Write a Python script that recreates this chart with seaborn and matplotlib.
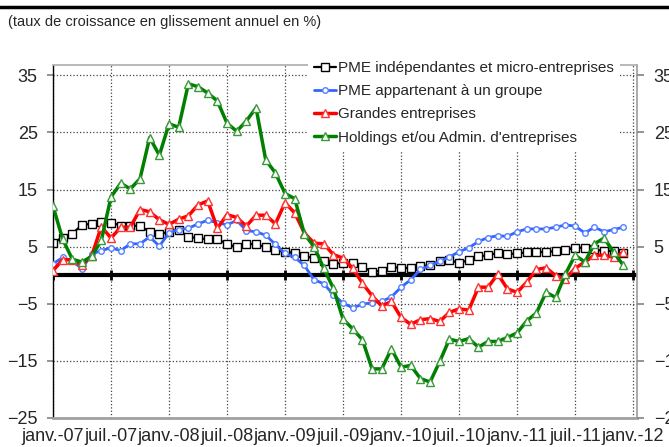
import numpy as np
import pandas as pd
import matplotlib
matplotlib.use("Agg")
import matplotlib.pyplot as plt
from matplotlib.lines import Line2D
import seaborn as sns

sns.set_theme(style="white")
plt.rcParams['font.family'] = ['Liberation Sans', 'DejaVu Sans']

# monthly values, janv.-07 .. déc.-11
tick_labels = ["janv.-07", "juil.-07", "janv.-08", "juil.-08", "janv.-09", "juil.-09",
               "janv.-10", "juil.-10", "janv.-11", "juil.-11", "janv.-12"]

pme_indep = [5.7, 6.6, 7.3, 8.8, 9.0, 9.3, 9.2, 8.7, 8.7, 8.6, 7.6, 7.2,
             7.6, 7.9, 6.7, 6.5, 6.3, 6.3, 5.5, 4.9, 5.5, 5.4, 4.9, 4.4,
             4.1, 3.9, 3.3, 3.0, 2.4, 2.0, 2.2, 2.1, 1.5, 0.6, 0.8, 1.5,
             1.2, 1.3, 1.6, 1.7, 2.5, 2.6, 2.2, 2.6, 3.3, 3.5, 3.9, 3.7,
             3.8, 4.0, 4.0, 4.1, 4.2, 4.4, 4.8, 4.8, 4.5, 4.2, 4.3, 3.9]

pme_groupe = [2.0, 3.1, 2.5, 1.1, 3.7, 4.3, 4.8, 4.3, 5.5, 5.5, 6.7, 5.1,
              7.4, 8.0, 8.2, 9.0, 9.6, 9.2, 8.8, 9.6, 7.8, 7.6, 7.0, 5.4,
              3.8, 3.1, 1.7, -0.8, -1.5, -3.4, -4.9, -5.7, -5.1, -4.8, -4.6, -3.8,
              -2.1, -0.8, 1.0, 1.7, 2.4, 3.2, 4.1, 4.8, 5.9, 6.6, 6.9, 6.8,
              7.6, 8.1, 8.1, 8.1, 8.4, 8.8, 8.6, 7.4, 8.4, 7.6, 8.0, 8.4]

grandes = [0.8, 2.7, 2.7, 1.8, 3.4, 8.5, 6.5, 8.4, 8.4, 11.5, 11.1, 9.7,
           8.9, 9.8, 10.4, 12.3, 13.0, 8.2, 10.6, 10.1, 8.6, 10.5, 10.5, 9.0,
           12.7, 10.9, 7.4, 5.6, 5.5, 3.6, 3.0, 1.2, -1.4, -3.6, -5.4, -4.6,
           -7.4, -8.6, -7.8, -7.6, -8.1, -6.5, -5.9, -6.1, -2.1, -2.1, 0.2, -2.4,
           -3.0, -1.2, 1.0, 1.3, -0.1, -0.6, 1.2, 2.3, 3.5, 3.5, 3.1, 4.0]

holdings = [12.1, 6.3, 2.8, 2.3, 3.3, 6.1, 13.7, 16.1, 15.1, 16.9, 24.1, 21.0,
            26.5, 25.9, 33.5, 33.0, 31.9, 30.5, 26.6, 25.2, 27.0, 29.3, 20.2, 17.9,
            14.3, 13.4, 7.2, 5.0, 1.2, -2.3, -7.7, -9.4, -11.3, -16.4, -16.4, -12.9,
            -16.1, -15.8, -18.1, -18.7, -15.1, -11.2, -11.6, -11.1, -12.6, -11.6, -11.6, -10.9,
            -10.1, -8.0, -6.6, -3.0, -3.9, 0.2, 3.5, 2.3, 5.5, 6.5, 4.0, 1.7]

series_names = ["PME indépendantes et micro-entreprises", "PME appartenant à un groupe",
                "Grandes entreprises", "Holdings et/ou Admin. d'entreprises"]

months = np.arange(len(pme_indep))
df = pd.DataFrame({"mois": months, series_names[0]: pme_indep, series_names[1]: pme_groupe,
                   series_names[2]: grandes, series_names[3]: holdings})

fig = plt.figure(figsize=(6.69, 4.47), dpi=100)
ax = fig.add_axes([53 / 669, 1 - 418 / 447, (637 - 53) / 669, (418 - 65) / 447])

styles = [
    dict(color="black", linewidth=1.6, marker="s", markersize=6, markeredgecolor="black"),
    dict(color="#3366ff", linewidth=2.0, marker="o", markersize=4, markeredgecolor="#5580ff"),
    dict(color="#ff0000", linewidth=2.5, marker="^", markersize=5.5, markeredgecolor="#ff3333"),
    dict(color="#008000", linewidth=2.5, marker="^", markersize=5.5, markeredgecolor="#3a9a3a"),
]

# zero axis with its tick marks
ax.axhline(0, color="black", lw=3, zorder=1.5)
ax.vlines(np.arange(0, 61, 6), -0.9, 0.9, color="black", lw=2, zorder=1.6)

handles = []
for i, (name, st) in enumerate(zip(series_names, styles)):
    sns.lineplot(data=df, x="mois", y=name, ax=ax, markerfacecolor="white",
                 markeredgewidth=1, zorder=2 + i, **st)
    handles.append(ax.lines[-1])

ax.set_xlim(0, 60.4)
ax.set_ylim(-25, 36.8)
ax.set_xticks(np.arange(0, 61, 6))
ax.set_xticklabels(tick_labels, fontsize=13)
ax.set_yticks([-25, -15, -5, 5, 15, 25, 35])
ax.tick_params(axis="y", labelsize=13, length=4, pad=7, color="#888888", left=True)
ax.tick_params(axis="x", length=0, pad=7)
ax.set_xlabel("")
ax.set_ylabel("")
ax.grid(True, linestyle=":", color="#444444", linewidth=0.9)

ax.spines["left"].set_color("black")
ax.spines["left"].set_linewidth(1)
ax.spines["bottom"].set_color("#a0a0a0")
ax.spines["bottom"].set_linewidth(2)
ax.spines["top"].set_color("#b0b0b0")
ax.spines["right"].set_color("#a0a0a0")

# right-hand axis (labels run off the edge, as in the source)
ax_r = ax.twinx()
ax_r.set_ylim(ax.get_ylim())
ax_r.set_yticks([-25, -15, -5, 5, 15, 25, 35])
ax_r.tick_params(axis="y", labelsize=13, length=5, pad=7, color="#888888", right=True)
ax_r.grid(False)
for s in ax_r.spines.values():
    s.set_visible(False)

leg = ax.legend(handles, series_names, loc="upper left",
                bbox_to_anchor=(308 / 669, 1 - 55 / 447), bbox_transform=fig.transFigure,
                fontsize=11, frameon=True, facecolor="white", edgecolor="none", framealpha=1,
                fancybox=False, handlelength=1.4, handletextpad=0.15, labelspacing=0.6,
                borderpad=0.4, borderaxespad=0)
leg.set_zorder(10)

fig.text(8 / 669, 1 - 22 / 447, "(taux de croissance en glissement annuel en %)",
         fontsize=10.5, va="center", ha="left")
fig.add_artist(Line2D([0, 1], [1 - 7 / 447] * 2, transform=fig.transFigure,
                      color="black", lw=2.5))

fig.savefig("out.png", dpi=100)
